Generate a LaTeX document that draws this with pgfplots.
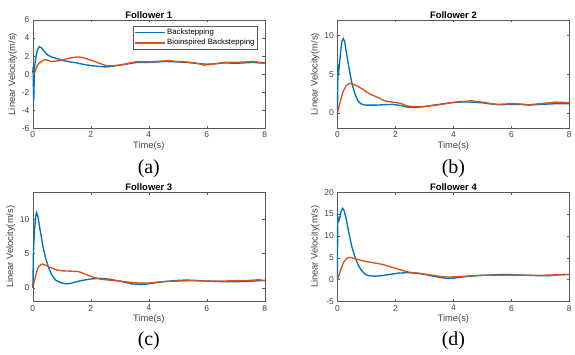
\documentclass[border=0pt]{standalone}
\usepackage{pgfplots}
\pgfplotsset{compat=1.18}
\usepackage{fontspec}
\setmainfont{Liberation Sans}
\newfontfamily\capfont{Liberation Serif}
\definecolor{mblue}{rgb}{0,0.447,0.741}
\definecolor{morange}{rgb}{0.85,0.325,0.098}
\pgfplotsset{
  mystyle/.style={
    scale only axis, width=233pt, height=109pt,
    xmin=0, xmax=8, xtick={0,2,4,6,8},
    clip=false,
    axis line style={black!65, line width=0.5pt},
    tick style={black!65, line width=0.5pt},
    tick align=inside, xtick pos=both, ytick pos=both,
    major tick length=2.5pt,
    ticklabel style={font=\fontsize{8.5}{9}\selectfont, text=black!75},
    label style={font=\fontsize{9.4}{10}\selectfont, text=black!75},
    title style={font=\bfseries\fontsize{9.5}{10}\selectfont, inner sep=1pt},
    every axis title shift=0pt,
    xlabel={Time(s)}, ylabel={Linear Velocity(m/s)},
    xlabel style={yshift=3pt},
    ylabel style={yshift=-2pt},
    every axis plot/.append style={line width=1.35pt},
    /pgf/number format/assume math mode=true,
  }
}
\begin{document}
\begin{tikzpicture}
\path (0pt,0pt) rectangle (575pt,-356pt);

% (a)
\begin{axis}[mystyle, at={(33pt,-20pt)}, anchor=north west,
  title={Follower 1}, ymin=-6, ymax=6, ytick={-6,-4,...,6},
  legend style={at={(0.97,0.945)}, anchor=north east, draw=black!65,
    font=\fontsize{7.8}{8.5}\selectfont, inner sep=1.2pt, row sep=-1pt},
  legend cell align=left,
  legend image code/.code={\draw[#1, line width=1.35pt] (0pt,0pt)--(30pt,0pt);}]
\addplot[mblue] coordinates {(0,0.2) (0.01,0.8) (0.02,-1.5) (0.03,-3.0) (0.045,-1.0) (0.06,0.8) (0.1,1.8) (0.15,2.6) (0.22,3.05) (0.3,2.9) (0.4,2.5) (0.5,2.15) (0.6,1.95) (0.8,1.75) (1.0,1.55) (1.2,1.4) (1.5,1.25) (1.8,1.05) (2.0,0.95) (2.3,0.85) (2.5,0.8) (2.7,0.85) (3.0,1.0) (3.3,1.15) (3.6,1.3) (4.0,1.3) (4.3,1.35) (4.6,1.4) (5.0,1.35) (5.3,1.3) (5.6,1.2) (6.0,1.1) (6.3,1.15) (6.6,1.25) (7.0,1.2) (7.3,1.25) (7.6,1.3) (8.0,1.2)};
\addlegendentry{Backstepping}
\addplot[morange] coordinates {(0,0) (0.05,0.1) (0.1,0.5) (0.15,0.9) (0.2,1.15) (0.3,1.4) (0.4,1.58) (0.47,1.6) (0.55,1.5) (0.65,1.4) (0.8,1.45) (0.9,1.5) (1.0,1.55) (1.2,1.72) (1.4,1.85) (1.55,1.9) (1.7,1.85) (1.9,1.65) (2.1,1.45) (2.3,1.2) (2.5,0.97) (2.7,0.92) (3.0,1.0) (3.3,1.2) (3.6,1.4) (4.0,1.35) (4.3,1.42) (4.7,1.5) (5.0,1.4) (5.3,1.35) (5.6,1.25) (5.9,1.0) (6.2,1.1) (6.6,1.3) (7.0,1.3) (7.3,1.35) (7.6,1.4) (8.0,1.25)};
\addlegendentry{Bioinspired Backstepping}
\node[font=\capfont\fontsize{20}{20}\selectfont, yshift=-40pt] at (rel axis cs:0.5,0) {(a)};
\end{axis}

% (b)
\begin{axis}[mystyle, at={(339pt,-20pt)}, anchor=north west,
  title={Follower 2}, ymin=-2, ymax=12, ytick={0,5,10}]
\addplot[mblue] coordinates {(0,0) (0.02,6.0) (0.05,5.5) (0.1,7.5) (0.15,9.2) (0.2,9.6) (0.25,9.2) (0.3,8.0) (0.4,5.8) (0.5,3.8) (0.6,2.5) (0.7,1.6) (0.8,1.2) (0.9,1.05) (1.0,1.0) (1.3,1.0) (1.6,1.05) (1.9,1.1) (2.2,0.95) (2.4,0.75) (2.7,0.7) (3.0,0.8) (3.3,1.0) (3.6,1.15) (4.0,1.35) (4.3,1.4) (4.6,1.4) (5.0,1.3) (5.3,1.15) (5.6,1.05) (6.0,1.1) (6.3,1.1) (6.6,1.0) (7.0,1.1) (7.3,1.15) (7.6,1.2) (8.0,1.2)};
\addplot[morange] coordinates {(0,0) (0.1,1.5) (0.2,2.8) (0.3,3.5) (0.4,3.8) (0.5,3.75) (0.6,3.6) (0.7,3.45) (0.8,3.2) (0.9,3.0) (1.0,2.7) (1.2,2.3) (1.4,2.0) (1.6,1.6) (1.8,1.45) (2.0,1.35) (2.2,1.2) (2.4,0.9) (2.6,0.8) (2.8,0.8) (3.0,0.85) (3.3,0.95) (3.6,1.1) (3.9,1.3) (4.2,1.45) (4.5,1.5) (4.6,1.6) (4.8,1.45) (5.0,1.4) (5.3,1.2) (5.5,1.1) (5.8,1.15) (6.0,1.2) (6.3,1.15) (6.6,1.05) (7.0,1.2) (7.3,1.3) (7.5,1.4) (7.8,1.35) (8.0,1.3)};
\node[font=\capfont\fontsize{20}{20}\selectfont, yshift=-40pt] at (rel axis cs:0.5,0) {(b)};
\end{axis}

% (c)
\begin{axis}[mystyle, height=110pt, at={(33pt,-193pt)}, anchor=north west,
  title={Follower 3}, ymin=-2, ymax=14, ytick={0,5,10}]
\addplot[mblue] coordinates {(0,0) (0.02,5.0) (0.05,8.0) (0.1,10.5) (0.13,11.0) (0.17,10.5) (0.25,8.5) (0.35,6.0) (0.45,4.2) (0.55,2.9) (0.65,1.9) (0.8,1.1) (1.0,0.7) (1.16,0.6) (1.3,0.65) (1.5,0.9) (1.7,1.1) (2.0,1.3) (2.3,1.4) (2.6,1.3) (2.8,1.15) (3.0,1.0) (3.2,0.8) (3.4,0.6) (3.7,0.5) (4.0,0.6) (4.3,0.8) (4.6,0.95) (5.0,1.1) (5.3,1.15) (5.6,1.1) (6.0,1.0) (6.3,0.95) (6.6,0.9) (7.0,0.9) (7.3,0.95) (7.6,1.0) (8.0,1.1)};
\addplot[morange] coordinates {(0,0) (0.08,1.5) (0.15,2.6) (0.22,3.2) (0.32,3.5) (0.45,3.3) (0.6,3.0) (0.8,2.65) (1.0,2.5) (1.3,2.45) (1.55,2.4) (1.7,2.2) (1.9,1.85) (2.1,1.55) (2.3,1.3) (2.6,1.15) (3.0,1.0) (3.4,0.8) (3.7,0.7) (4.0,0.7) (4.3,0.85) (4.6,0.95) (5.0,1.0) (5.5,1.05) (6.0,1.0) (6.5,1.0) (7.0,1.05) (7.5,1.1) (7.8,1.2) (8.0,1.05)};
\node[font=\capfont\fontsize{20}{20}\selectfont, yshift=-39pt] at (rel axis cs:0.5,0) {(c)};
\end{axis}

% (d)
\begin{axis}[mystyle, height=110pt, at={(339pt,-193pt)}, anchor=north west,
  title={Follower 4}, ymin=-5, ymax=20, ytick={-5,0,...,20}]
\addplot[mblue] coordinates {(0,0) (0.01,14.5) (0.05,13.5) (0.08,14.0) (0.12,15.5) (0.18,16.3) (0.23,15.8) (0.3,14.0) (0.4,10.5) (0.5,7.5) (0.6,5.3) (0.7,3.6) (0.8,2.4) (0.9,1.6) (1.0,1.1) (1.15,0.85) (1.3,0.8) (1.5,0.9) (1.8,1.2) (2.1,1.5) (2.4,1.6) (2.7,1.5) (3.0,1.2) (3.3,0.8) (3.6,0.45) (3.8,0.3) (4.0,0.35) (4.3,0.6) (4.6,0.8) (5.0,1.0) (5.4,1.1) (5.8,1.2) (6.2,1.1) (6.6,1.0) (7.0,0.9) (7.3,0.9) (7.6,1.1) (8.0,1.2)};
\addplot[morange] coordinates {(0,0) (0.1,2.0) (0.2,3.8) (0.3,4.8) (0.4,5.1) (0.5,5.0) (0.6,4.8) (0.8,4.45) (1.0,4.15) (1.2,3.9) (1.4,3.7) (1.6,3.4) (1.8,3.0) (2.0,2.6) (2.2,2.2) (2.4,1.8) (2.6,1.6) (2.8,1.5) (3.0,1.3) (3.3,1.0) (3.6,0.7) (3.8,0.6) (4.2,0.7) (4.6,0.9) (5.0,1.0) (5.5,1.0) (6.0,1.05) (6.5,1.0) (7.0,1.0) (7.5,1.1) (8.0,1.2)};
\node[font=\capfont\fontsize{20}{20}\selectfont, yshift=-39pt] at (rel axis cs:0.5,0) {(d)};
\end{axis}
\end{tikzpicture}
\end{document}
